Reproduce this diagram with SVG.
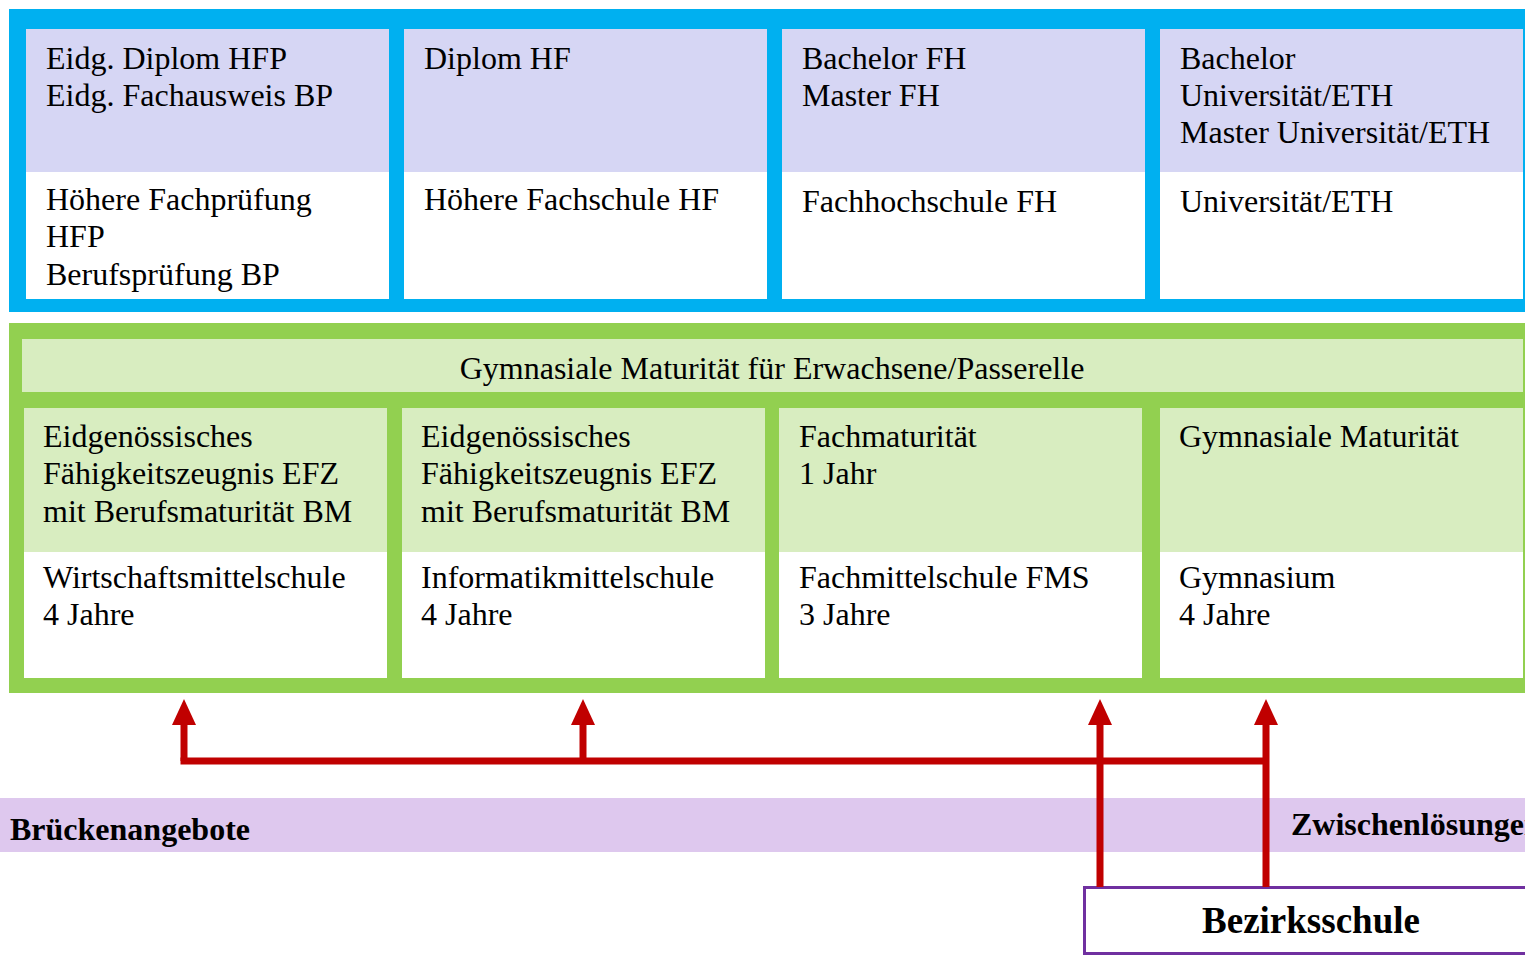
<svg xmlns="http://www.w3.org/2000/svg" width="1525" height="956" viewBox="0 0 1525 956">
<defs>
<style>
.t{font-family:"Liberation Serif","Times New Roman",serif;font-size:32px;fill:#000}
.b{font-family:"Liberation Serif","Times New Roman",serif;font-weight:bold;fill:#000}
.lav{fill:#D6D6F4}
.lg{fill:#D8EDC0}
.wh{fill:#FFFFFF}
.red{stroke:#C00000;stroke-width:7;fill:none}
</style>
<marker id="ah" markerUnits="userSpaceOnUse" markerWidth="26" markerHeight="24" viewBox="0 0 26 24" refX="0" refY="12" orient="auto">
<path d="M0,0 L26,12 L0,24 z" fill="#C00000"/>
</marker>
</defs>
<rect width="1525" height="956" fill="#FFFFFF"/>

<g id="tertiary">
<rect x="9" y="9" width="1516" height="303" fill="#00B0F0"/>
<g id="hfp">
<rect class="lav" x="26" y="29" width="363" height="143"/>
<rect class="wh" x="26" y="172" width="363" height="127"/>
<text class="t" x="46" y="69">Eidg. Diplom HFP</text>
<text class="t" x="46" y="106">Eidg. Fachausweis BP</text>
<text class="t" x="46" y="210">Höhere Fachprüfung</text>
<text class="t" x="46" y="247">HFP</text>
<text class="t" x="46" y="285">Berufsprüfung BP</text>
</g>
<g id="hf">
<rect class="lav" x="404" y="29" width="363" height="143"/>
<rect class="wh" x="404" y="172" width="363" height="127"/>
<text class="t" x="424" y="69">Diplom HF</text>
<text class="t" x="424" y="210">Höhere Fachschule HF</text>
</g>
<g id="fh">
<rect class="lav" x="782" y="29" width="363" height="143"/>
<rect class="wh" x="782" y="172" width="363" height="127"/>
<text class="t" x="802" y="69">Bachelor FH</text>
<text class="t" x="802" y="106">Master FH</text>
<text class="t" x="802" y="212">Fachhochschule FH</text>
</g>
<g id="uni">
<rect class="lav" x="1160" y="29" width="363" height="143"/>
<rect class="wh" x="1160" y="172" width="363" height="127"/>
<text class="t" x="1180" y="69">Bachelor</text>
<text class="t" x="1180" y="106">Universität/ETH</text>
<text class="t" x="1180" y="143">Master Universität/ETH</text>
<text class="t" x="1180" y="212">Universität/ETH</text>
</g>
</g>

<g id="secondary">
<rect x="9" y="323" width="1516" height="370" fill="#92D050"/>
<g id="passerelle">
<rect class="lg" x="22" y="339" width="1501" height="53"/>
<text class="t" x="772" y="379" text-anchor="middle">Gymnasiale Maturität für Erwachsene/Passerelle</text>
</g>
<g id="wms">
<rect class="lg" x="24" y="408" width="363" height="144"/>
<rect class="wh" x="24" y="552" width="363" height="126"/>
<text class="t" x="43" y="447">Eidgenössisches</text>
<text class="t" x="43" y="484">Fähigkeitszeugnis EFZ</text>
<text class="t" x="43" y="522">mit Berufsmaturität BM</text>
<text class="t" x="43" y="588">Wirtschaftsmittelschule</text>
<text class="t" x="43" y="625">4 Jahre</text>
</g>
<g id="ims">
<rect class="lg" x="402" y="408" width="363" height="144"/>
<rect class="wh" x="402" y="552" width="363" height="126"/>
<text class="t" x="421" y="447">Eidgenössisches</text>
<text class="t" x="421" y="484">Fähigkeitszeugnis EFZ</text>
<text class="t" x="421" y="522">mit Berufsmaturität BM</text>
<text class="t" x="421" y="588">Informatikmittelschule</text>
<text class="t" x="421" y="625">4 Jahre</text>
</g>
<g id="fms">
<rect class="lg" x="779" y="408" width="363" height="144"/>
<rect class="wh" x="779" y="552" width="363" height="126"/>
<text class="t" x="799" y="447">Fachmaturität</text>
<text class="t" x="799" y="484">1 Jahr</text>
<text class="t" x="799" y="588">Fachmittelschule FMS</text>
<text class="t" x="799" y="625">3 Jahre</text>
</g>
<g id="gym">
<rect class="lg" x="1160" y="408" width="363" height="144"/>
<rect class="wh" x="1160" y="552" width="363" height="126"/>
<text class="t" x="1179" y="447">Gymnasiale Maturität</text>
<text class="t" x="1179" y="588">Gymnasium</text>
<text class="t" x="1179" y="625">4 Jahre</text>
</g>
</g>

<g id="bridge">
<rect x="0" y="798" width="1525" height="54" fill="#DEC8EE"/>
<text class="b" x="10" y="840" font-size="32">Brückenangebote</text>
<text class="b" x="1291" y="835" font-size="32">Zwischenlösungen</text>
</g>

<g id="bezirksschule">
<rect x="1084.5" y="887.5" width="460" height="66" fill="#FFFFFF" stroke="#7030A0" stroke-width="3"/>
<text class="b" x="1311" y="933" font-size="37" text-anchor="middle">Bezirksschule</text>
</g>

<g id="connectors">
<path class="red" d="M180.5,761 H1266"/>
<path class="red" d="M184,761 V725" marker-end="url(#ah)"/>
<path class="red" d="M583,761 V725" marker-end="url(#ah)"/>
<path class="red" d="M1100,887 V725" marker-end="url(#ah)"/>
<path class="red" d="M1266,887 V725" marker-end="url(#ah)"/>
</g>
</svg>
